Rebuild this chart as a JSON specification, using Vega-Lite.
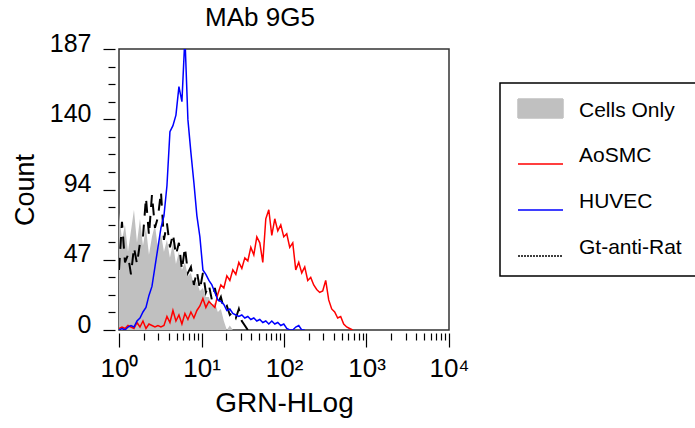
{
"$schema": "https://vega.github.io/schema/vega-lite/v6.json",
"width": 330, "height": 281,
"autosize": "none",
"padding": {"left": 119, "top": 49, "right": 246, "bottom": 98},
"background": "white",
"title": {"text": "MAb 9G5", "fontSize": 26, "font": "Liberation Sans", "fontWeight": "normal", "color": "black", "anchor": "middle", "dx": -24, "offset": 0},
"config": {
  "view": {"stroke": "#333333", "strokeWidth": 1.5},
  "axis": {"labelFont": "Liberation Sans", "titleFont": "Liberation Sans", "labelColor": "black", "titleColor": "black", "titleFontWeight": "normal", "tickColor": "black", "grid": false, "domain": false}
},
"data": {"values": [
{"series":"Cells Only","x":1,"count":78},{"series":"Cells Only","x":1.087,"count":60},{"series":"Cells Only","x":1.182,"count":70},{"series":"Cells Only","x":1.285,"count":52},{"series":"Cells Only","x":1.397,"count":66},{"series":"Cells Only","x":1.519,"count":80},{"series":"Cells Only","x":1.652,"count":58},{"series":"Cells Only","x":1.796,"count":74},{"series":"Cells Only","x":1.952,"count":56},{"series":"Cells Only","x":2.123,"count":68},
{"series":"Cells Only","x":2.308,"count":50},{"series":"Cells Only","x":2.509,"count":62},{"series":"Cells Only","x":2.728,"count":70},{"series":"Cells Only","x":2.966,"count":54},{"series":"Cells Only","x":3.225,"count":64},{"series":"Cells Only","x":3.506,"count":52},{"series":"Cells Only","x":3.812,"count":60},{"series":"Cells Only","x":4.144,"count":48},{"series":"Cells Only","x":4.506,"count":58},{"series":"Cells Only","x":4.899,"count":44},
{"series":"Cells Only","x":5.326,"count":52},{"series":"Cells Only","x":5.79,"count":40},{"series":"Cells Only","x":6.295,"count":45},{"series":"Cells Only","x":6.844,"count":36},{"series":"Cells Only","x":7.441,"count":38},{"series":"Cells Only","x":8.09,"count":30},{"series":"Cells Only","x":8.795,"count":32},{"series":"Cells Only","x":9.562,"count":26},{"series":"Cells Only","x":10.4,"count":28},{"series":"Cells Only","x":11.3,"count":22},
{"series":"Cells Only","x":12.29,"count":22},{"series":"Cells Only","x":13.36,"count":16},{"series":"Cells Only","x":14.52,"count":18},{"series":"Cells Only","x":15.79,"count":12},{"series":"Cells Only","x":17.17,"count":14},{"series":"Cells Only","x":18.66,"count":6},{"series":"Cells Only","x":20.29,"count":0},{"series":"Cells Only","x":22.06,"count":3},{"series":"Cells Only","x":23.98,"count":0},

{"series":"Gt-anti-Rat","x":1,"count":40},{"series":"Gt-anti-Rat","x":1.087,"count":72},{"series":"Gt-anti-Rat","x":1.182,"count":45},{"series":"Gt-anti-Rat","x":1.285,"count":50},{"series":"Gt-anti-Rat","x":1.397,"count":37},{"series":"Gt-anti-Rat","x":1.519,"count":55},{"series":"Gt-anti-Rat","x":1.652,"count":44},{"series":"Gt-anti-Rat","x":1.796,"count":58},{"series":"Gt-anti-Rat","x":1.952,"count":62},{"series":"Gt-anti-Rat","x":2.123,"count":88},
{"series":"Gt-anti-Rat","x":2.308,"count":63},{"series":"Gt-anti-Rat","x":2.509,"count":90},{"series":"Gt-anti-Rat","x":2.728,"count":68},{"series":"Gt-anti-Rat","x":2.966,"count":75},{"series":"Gt-anti-Rat","x":3.225,"count":92},{"series":"Gt-anti-Rat","x":3.506,"count":60},{"series":"Gt-anti-Rat","x":3.812,"count":71},{"series":"Gt-anti-Rat","x":4.144,"count":55},{"series":"Gt-anti-Rat","x":4.506,"count":64},{"series":"Gt-anti-Rat","x":4.899,"count":50},
{"series":"Gt-anti-Rat","x":5.326,"count":58},{"series":"Gt-anti-Rat","x":5.79,"count":40},{"series":"Gt-anti-Rat","x":6.295,"count":55},{"series":"Gt-anti-Rat","x":6.844,"count":38},{"series":"Gt-anti-Rat","x":7.441,"count":42},{"series":"Gt-anti-Rat","x":8.09,"count":30},{"series":"Gt-anti-Rat","x":8.795,"count":39},{"series":"Gt-anti-Rat","x":9.562,"count":27},{"series":"Gt-anti-Rat","x":10.4,"count":38},{"series":"Gt-anti-Rat","x":11.3,"count":25},
{"series":"Gt-anti-Rat","x":12.29,"count":30},{"series":"Gt-anti-Rat","x":13.36,"count":20},{"series":"Gt-anti-Rat","x":14.52,"count":28},{"series":"Gt-anti-Rat","x":15.79,"count":18},{"series":"Gt-anti-Rat","x":17.17,"count":22},{"series":"Gt-anti-Rat","x":18.66,"count":14},{"series":"Gt-anti-Rat","x":20.29,"count":16},{"series":"Gt-anti-Rat","x":22.06,"count":10},{"series":"Gt-anti-Rat","x":23.98,"count":12},{"series":"Gt-anti-Rat","x":26.07,"count":8},
{"series":"Gt-anti-Rat","x":28.35,"count":14},{"series":"Gt-anti-Rat","x":30.82,"count":6},{"series":"Gt-anti-Rat","x":33.51,"count":3},{"series":"Gt-anti-Rat","x":36.43,"count":0},

{"series":"AoSMC","x":1,"count":1},{"series":"AoSMC","x":1.087,"count":2},{"series":"AoSMC","x":1.182,"count":1},{"series":"AoSMC","x":1.285,"count":3},{"series":"AoSMC","x":1.397,"count":2},{"series":"AoSMC","x":1.519,"count":1},{"series":"AoSMC","x":1.652,"count":5},{"series":"AoSMC","x":1.796,"count":2},{"series":"AoSMC","x":1.952,"count":6},{"series":"AoSMC","x":2.123,"count":1},
{"series":"AoSMC","x":2.308,"count":4},{"series":"AoSMC","x":2.509,"count":3},{"series":"AoSMC","x":2.728,"count":2},{"series":"AoSMC","x":2.966,"count":3},{"series":"AoSMC","x":3.225,"count":2},{"series":"AoSMC","x":3.506,"count":3},{"series":"AoSMC","x":3.812,"count":9},{"series":"AoSMC","x":4.144,"count":5},{"series":"AoSMC","x":4.506,"count":13},{"series":"AoSMC","x":4.899,"count":6},
{"series":"AoSMC","x":5.326,"count":10},{"series":"AoSMC","x":5.79,"count":4},{"series":"AoSMC","x":6.295,"count":11},{"series":"AoSMC","x":6.844,"count":7},{"series":"AoSMC","x":7.441,"count":12},{"series":"AoSMC","x":8.09,"count":8},{"series":"AoSMC","x":8.795,"count":13},{"series":"AoSMC","x":9.562,"count":16},{"series":"AoSMC","x":10.4,"count":21},{"series":"AoSMC","x":11.3,"count":15},
{"series":"AoSMC","x":12.29,"count":19},{"series":"AoSMC","x":13.36,"count":17},{"series":"AoSMC","x":14.52,"count":15},{"series":"AoSMC","x":15.79,"count":24},{"series":"AoSMC","x":17.17,"count":30},{"series":"AoSMC","x":18.66,"count":28},{"series":"AoSMC","x":20.29,"count":36},{"series":"AoSMC","x":22.06,"count":33},{"series":"AoSMC","x":23.98,"count":40},{"series":"AoSMC","x":26.07,"count":37},
{"series":"AoSMC","x":28.35,"count":45},{"series":"AoSMC","x":30.82,"count":41},{"series":"AoSMC","x":33.51,"count":48},{"series":"AoSMC","x":36.43,"count":46},{"series":"AoSMC","x":39.61,"count":55},{"series":"AoSMC","x":43.06,"count":50},{"series":"AoSMC","x":46.82,"count":62},{"series":"AoSMC","x":50.9,"count":58},{"series":"AoSMC","x":55.34,"count":45},{"series":"AoSMC","x":60.17,"count":74},
{"series":"AoSMC","x":65.41,"count":80},{"series":"AoSMC","x":71.12,"count":63},{"series":"AoSMC","x":77.32,"count":74},{"series":"AoSMC","x":84.06,"count":66},{"series":"AoSMC","x":91.39,"count":70},{"series":"AoSMC","x":99.36,"count":62},{"series":"AoSMC","x":108,"count":64},{"series":"AoSMC","x":117.4,"count":55},{"series":"AoSMC","x":127.7,"count":58},{"series":"AoSMC","x":138.8,"count":40},
{"series":"AoSMC","x":150.9,"count":45},{"series":"AoSMC","x":164.1,"count":38},{"series":"AoSMC","x":178.4,"count":42},{"series":"AoSMC","x":193.9,"count":33},{"series":"AoSMC","x":210.8,"count":35},{"series":"AoSMC","x":229.2,"count":30},{"series":"AoSMC","x":249.2,"count":27},{"series":"AoSMC","x":270.9,"count":25},{"series":"AoSMC","x":294.6,"count":26},{"series":"AoSMC","x":320.2,"count":33},
{"series":"AoSMC","x":348.2,"count":20},{"series":"AoSMC","x":378.5,"count":14},{"series":"AoSMC","x":411.5,"count":12},{"series":"AoSMC","x":447.4,"count":8},{"series":"AoSMC","x":486.4,"count":9},{"series":"AoSMC","x":528.8,"count":4},{"series":"AoSMC","x":574.9,"count":2},{"series":"AoSMC","x":625,"count":1},{"series":"AoSMC","x":679.5,"count":0},

{"series":"HUVEC","x":1,"count":0},{"series":"HUVEC","x":1.087,"count":1},{"series":"HUVEC","x":1.182,"count":0},{"series":"HUVEC","x":1.285,"count":2},{"series":"HUVEC","x":1.397,"count":3},{"series":"HUVEC","x":1.519,"count":2},{"series":"HUVEC","x":1.652,"count":6},{"series":"HUVEC","x":1.796,"count":8},{"series":"HUVEC","x":1.952,"count":12},{"series":"HUVEC","x":2.123,"count":15},
{"series":"HUVEC","x":2.308,"count":23},{"series":"HUVEC","x":2.509,"count":29},{"series":"HUVEC","x":2.728,"count":42},{"series":"HUVEC","x":2.966,"count":55},{"series":"HUVEC","x":3.225,"count":68},{"series":"HUVEC","x":3.506,"count":76},{"series":"HUVEC","x":3.812,"count":96},{"series":"HUVEC","x":4.144,"count":132},{"series":"HUVEC","x":4.506,"count":136},{"series":"HUVEC","x":4.899,"count":143},
{"series":"HUVEC","x":5.326,"count":162},{"series":"HUVEC","x":5.79,"count":152},{"series":"HUVEC","x":6.295,"count":195},{"series":"HUVEC","x":6.844,"count":140},{"series":"HUVEC","x":7.441,"count":118},{"series":"HUVEC","x":8.09,"count":98},{"series":"HUVEC","x":8.795,"count":76},{"series":"HUVEC","x":9.562,"count":62},{"series":"HUVEC","x":10.4,"count":40},{"series":"HUVEC","x":11.3,"count":37},
{"series":"HUVEC","x":12.29,"count":33},{"series":"HUVEC","x":13.36,"count":30},{"series":"HUVEC","x":14.52,"count":25},{"series":"HUVEC","x":15.79,"count":20},{"series":"HUVEC","x":17.17,"count":19},{"series":"HUVEC","x":18.66,"count":17},{"series":"HUVEC","x":20.29,"count":13},{"series":"HUVEC","x":22.06,"count":14},{"series":"HUVEC","x":23.98,"count":11},{"series":"HUVEC","x":26.07,"count":10},
{"series":"HUVEC","x":28.35,"count":9},{"series":"HUVEC","x":30.82,"count":10},{"series":"HUVEC","x":33.51,"count":8},{"series":"HUVEC","x":36.43,"count":9},{"series":"HUVEC","x":39.61,"count":7},{"series":"HUVEC","x":43.06,"count":8},{"series":"HUVEC","x":46.82,"count":6},{"series":"HUVEC","x":50.9,"count":7},{"series":"HUVEC","x":55.34,"count":5},{"series":"HUVEC","x":60.17,"count":6},
{"series":"HUVEC","x":65.41,"count":4},{"series":"HUVEC","x":71.12,"count":6},{"series":"HUVEC","x":77.32,"count":4},{"series":"HUVEC","x":84.06,"count":5},{"series":"HUVEC","x":91.39,"count":3},{"series":"HUVEC","x":99.36,"count":4},{"series":"HUVEC","x":108,"count":1},{"series":"HUVEC","x":117.4,"count":0},{"series":"HUVEC","x":127.7,"count":0},{"series":"HUVEC","x":138.8,"count":2},
{"series":"HUVEC","x":150.9,"count":3},{"series":"HUVEC","x":164.1,"count":0},{"series":"HUVEC","x":178.4,"count":0}
]},
"encoding": {
  "x": {"field": "x", "type": "quantitative",
    "scale": {"type": "log", "domain": [1, 10000], "nice": false},
    "axis": {"values": [1,2,3,4,5,6,7,8,9,10,20,30,40,50,60,70,80,90,100,200,300,400,500,600,700,800,900,1000,2000,3000,4000,5000,6000,7000,8000,9000,10000],
      "labelExpr": "datum.value == 1 ? '10⁰' : datum.value == 10 ? '10¹' : datum.value == 100 ? '10²' : datum.value == 1000 ? '10³' : datum.value == 10000 ? '10⁴' : ''",
      "tickSize": {"condition": {"test": "indexof([1,10,100,1000,10000], datum.value) >= 0", "value": 14}, "value": 7},
      "tickWidth": 1.2, "offset": 3, "title": "GRN-HLog", "titleFontSize": 28, "labelFontSize": 26, "labelPadding": 8, "titlePadding": 8, "labelFlush": false, "labelOverlap": false}},
  "y": {"field": "count", "type": "quantitative",
    "scale": {"domain": [0, 187], "nice": false, "zero": false},
    "axis": {"values": [0,11.6875,23.375,35.0625,46.75,58.4375,70.125,81.8125,93.5,105.1875,116.875,128.5625,140.25,151.9375,163.625,175.3125,187],
      "labelExpr": "datum.value % 46.75 === 0 ? format(round(datum.value), 'd') : ''",
      "tickSize": {"condition": {"test": "datum.value % 46.75 === 0", "value": 12}, "value": 7},
      "tickWidth": 1.2, "offset": 4, "title": "Count", "titleFontSize": 27, "labelFontSize": 25, "labelPadding": 12, "labelBaseline": "alphabetic", "labelOffset": 2, "titlePadding": 10, "labelFlush": false, "labelOverlap": false}},
  "color": {"field": "series", "type": "nominal",
    "scale": {"domain": ["Cells Only", "AoSMC", "HUVEC", "Gt-anti-Rat"], "range": ["#c0c0c0", "#ff0000", "#0000ff", "#000000"]},
    "legend": {"title": null, "orient": "none", "legendX": 381, "legendY": 34, "direction": "vertical",
      "strokeColor": "black", "fillColor": "white", "padding": 17,
      "labelFont": "Liberation Sans", "labelFontSize": 21, "labelColor": "black", "labelOffset": 40, "labelLimit": 300,
      "symbolSize": 400, "rowPadding": 24,
      "encode": {
        "symbols": {"update": {
          "shape": {"signal": "datum.value === 'Cells Only' ? 'M-1,-1.2H3.5V0.7H-1Z' : 'M-1,0.8H3.5'"},
          "fill": {"signal": "datum.value === 'Cells Only' ? '#c0c0c0' : 'transparent'"},
          "stroke": {"signal": "datum.value === 'AoSMC' ? '#ff0000' : datum.value === 'HUVEC' ? '#0000ff' : datum.value === 'Gt-anti-Rat' ? '#000000' : 'transparent'"},
          "strokeWidth": {"value": 1.5},
          "strokeDash": {"signal": "datum.value === 'Gt-anti-Rat' ? [2,1] : [1,0]"},
          "opacity": {"value": 1}}},
        "legend": {"update": {"strokeWidth": {"value": 1.5}}}
      }}}
},
"layer": [
  {"transform": [{"filter": "datum.series === 'Cells Only'"}], "mark": {"type": "area", "opacity": 1, "clip": true}},
  {"transform": [{"filter": "datum.series === 'Gt-anti-Rat'"}], "mark": {"type": "line", "strokeDash": [12, 9], "strokeWidth": 2, "clip": true}},
  {"transform": [{"filter": "datum.series === 'AoSMC'"}], "mark": {"type": "line", "strokeWidth": 1.5, "clip": true}},
  {"transform": [{"filter": "datum.series === 'HUVEC'"}], "mark": {"type": "line", "strokeWidth": 1.5, "clip": true}}
]
}
